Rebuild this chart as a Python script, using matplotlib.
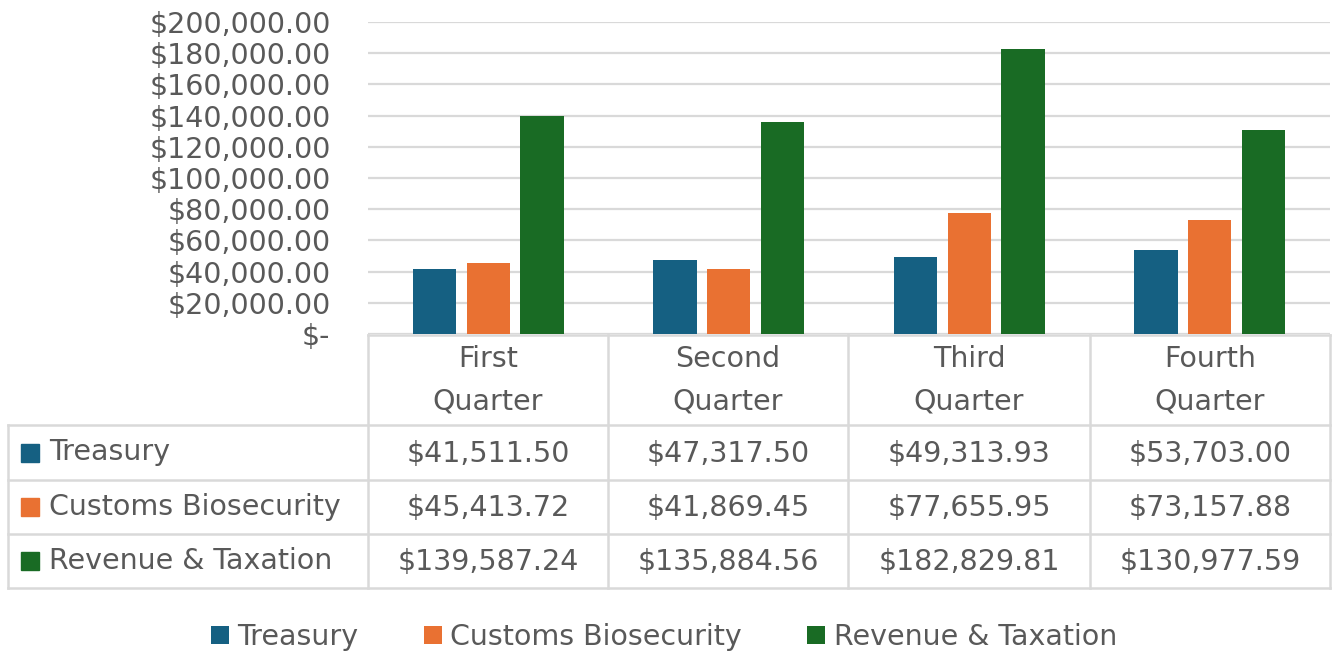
import matplotlib.pyplot as plt
import numpy as np
from matplotlib.patches import Rectangle

plt.rcParams["font.family"] = ["DejaVu Sans"]

# data
quarters = ["First\nQuarter", "Second\nQuarter", "Third\nQuarter", "Fourth\nQuarter"]
series = ["Treasury", "Customs Biosecurity", "Revenue & Taxation"]
treasury = [41511.50, 47317.50, 49313.93, 53703.00]
customs = [45413.72, 41869.45, 77655.95, 73157.88]
revenue = [139587.24, 135884.56, 182829.81, 130977.59]
colors = ["#156082", "#E97132", "#196B24"]
yticks = np.arange(0, 200001, 20000)

W, H = 1333, 656
TXT = "#595959"
GRID = "#D9D9D9"
FS = 20.5

fig = plt.figure(figsize=(W / 100, H / 100), dpi=100)

# bar area in pixel coordinates
x0, x1 = 368, 1330
ytop, ybot = 22, 334
ax = fig.add_axes([x0 / W, 1 - ybot / H, (x1 - x0) / W, (ybot - ytop) / H])

values = [treasury, customs, revenue]
x = np.arange(len(quarters))
bw = 0.18
offs = [-0.223, 0, 0.223]
for vals, off, c, name in zip(values, offs, colors, series):
    ax.bar(x + off, vals, width=bw, color=c, label=name, zorder=3)

ax.set_xlim(-0.5, len(quarters) - 0.5)
ax.set_ylim(0, 200000)
ax.set_yticks(yticks)
ax.set_yticklabels(["$-"] + [f"${v:,.2f}" for v in yticks[1:]])
ax.tick_params(axis="y", length=0, pad=27, labelsize=FS, labelcolor=TXT)
ax.tick_params(axis="x", length=0, labelbottom=False)
ax.grid(axis="y", color=GRID, lw=1.6, zorder=0)
for s in ax.spines.values():
    s.set_visible(False)

# overlay for table
ov = fig.add_axes([0, 0, 1, 1])
ov.set_xlim(0, W)
ov.set_ylim(H, 0)
ov.axis("off")

cols = [368, 608, 848, 1090, 1330]
rows = [335, 425, 480, 534, 588]
lk = dict(color=GRID, lw=1.8)

# header borders
ov.plot([cols[0], cols[-1]], [rows[0], rows[0]], **lk)
for cx in cols:
    ov.plot([cx, cx], [rows[0], rows[-1]], **lk)
ov.plot([8, 8], [rows[1], rows[-1]], **lk)
for ry in rows[1:]:
    ov.plot([8, cols[-1]], [ry, ry], **lk)

for i, q in enumerate(quarters):
    cx = (cols[i] + cols[i + 1]) / 2
    ov.text(cx, 380, q, ha="center", va="center",
            fontsize=FS, color=TXT, linespacing=1.65)

for r, (vals, c, name) in enumerate(zip(values, colors, series)):
    cy = (rows[r + 1] + rows[r + 2]) / 2
    ov.add_patch(Rectangle((21, cy - 9), 18, 18, color=c))
    ov.text(49, cy, name, ha="left", va="center", fontsize=FS, color=TXT)
    for i, v in enumerate(vals):
        cx = (cols[i] + cols[i + 1]) / 2
        ov.text(cx, cy + 1, f"${v:,.2f}", ha="center", va="center",
                fontsize=FS, color=TXT)

handles, labels = ax.get_legend_handles_labels()
fig.legend(handles, labels, loc="center", bbox_to_anchor=(664 / W, 1 - 637 / H),
           ncol=3, frameon=False, fontsize=FS, labelcolor=TXT,
           handlelength=0.62, handleheight=0.62, handletextpad=0.3, columnspacing=2.3)

fig.savefig("out.png", dpi=100)
